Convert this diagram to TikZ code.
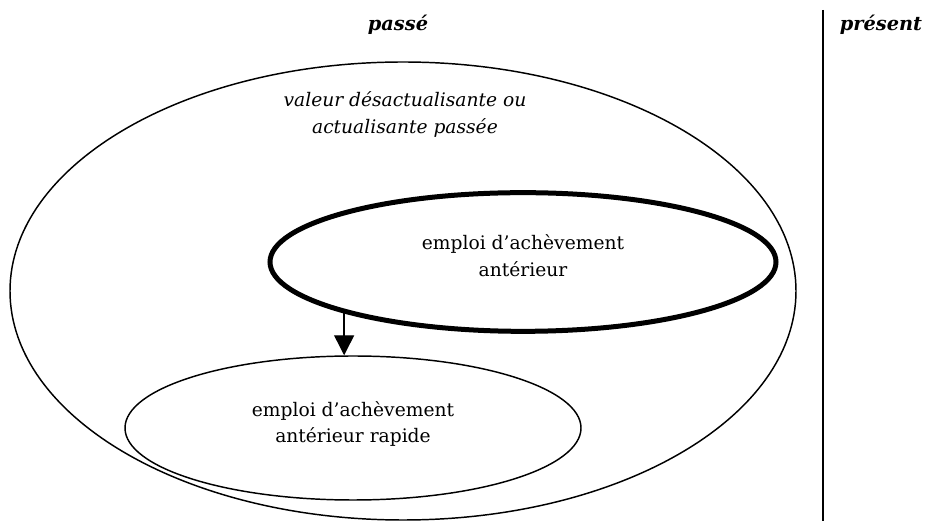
\documentclass[tikz,border=0pt]{standalone}
\usepackage{fontspec}
\setmainfont{DejaVu Serif}
\usetikzlibrary{shapes.geometric,arrows.meta}
\begin{document}
\begin{tikzpicture}[x=0.75pt,y=-0.75pt,
  txt/.style={font=\fontsize{14}{20}\selectfont, align=center, inner sep=0pt},
  oval/.style={ellipse, draw, inner sep=0pt, line width=1.1pt},
  heavy/.style={oval, line width=3.75pt},
  link/.style={line width=1.1pt, -{Triangle[width=15pt,length=15pt]}}]
\useasboundingbox (0,0) rectangle (932,523);

% time axis labels and divider
\node[txt, font=\fontsize{14.5}{20}\selectfont\bfseries\itshape] (past) at (398,25) {passé};
\node[txt, font=\fontsize{14.5}{20}\selectfont\bfseries\itshape] (present) at (881,25) {présent};
\coordinate (divtop) at (823,10);
\coordinate (divbot) at (823,521);
\draw[line width=1.1pt] (divtop) -- (divbot);

% nested ovals
\node[oval, minimum width=589.5pt, minimum height=343.5pt] (outer) at (403,291) {};
\node[txt, font=\fontsize{14}{20}\selectfont\itshape] (outerlbl) at (405,114.5)
  {valeur désactualisante ou\\actualisante passée};
\node[heavy, minimum width=379.5pt, minimum height=104pt] (ach) at (523,262) {};
\node[txt] (achlbl) at (523,256) {emploi d’achèvement\\antérieur};
\node[oval, minimum width=342pt, minimum height=108pt] (rap) at (353,428) {};
\node[txt] (raplbl) at (353,424) {emploi d’achèvement\\antérieur rapide};

% derivation arrow
\draw[link] (ach.196) -- (ach.196 |- rap.north);
\end{tikzpicture}
\end{document}
